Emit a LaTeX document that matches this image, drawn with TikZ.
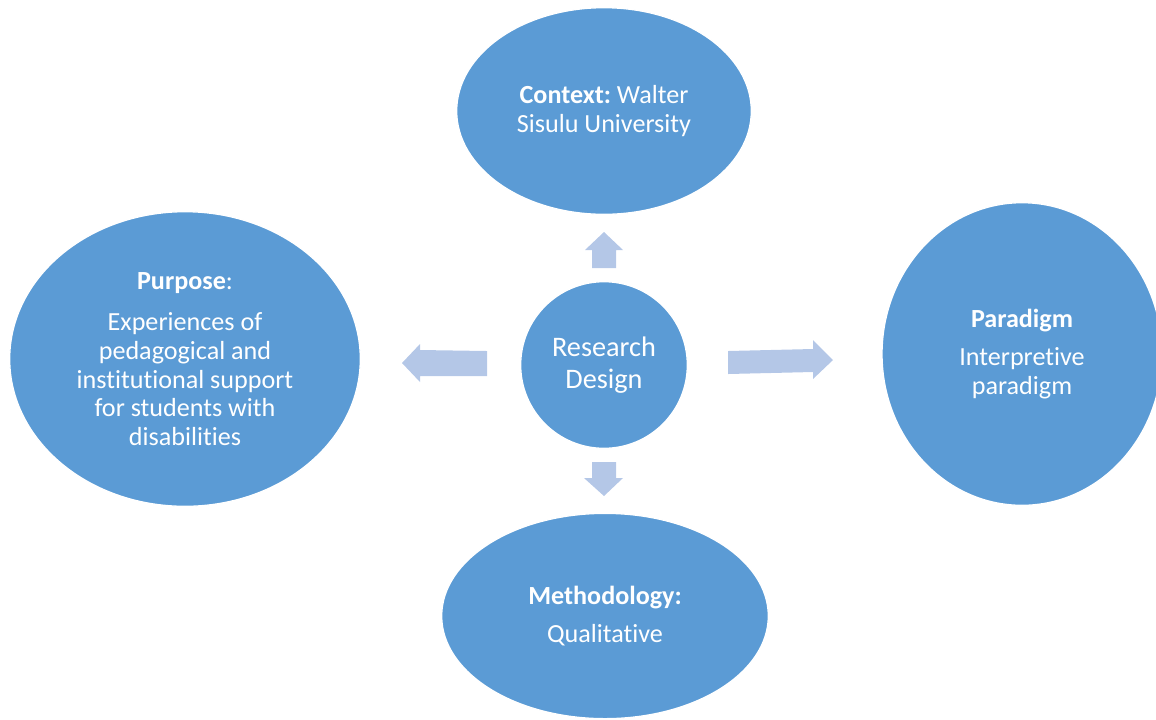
\documentclass[tikz,border=0pt]{standalone}
\usepackage{fontspec}
\setmainfont{Carlito}[Ligatures={NoCommon}]
\frenchspacing
\usetikzlibrary{shapes.geometric}
\definecolor{bubble}{RGB}{91,155,213}
\definecolor{arrowblue}{RGB}{180,199,231}
\tikzset{
  bubble/.style={ellipse, fill=bubble, draw=white, line width=1pt, text=white,
    align=center, inner sep=0pt, font=\fontsize{19.6}{21.5}\selectfont},
  blockarrow/.style={fill=arrowblue, draw=none}
}
\begin{document}
\begin{tikzpicture}[x=0.75pt, y=-0.75pt]
\useasboundingbox (0,0) rectangle (1156,719);
% nodes
\node[bubble, minimum width=221pt, minimum height=155pt] (ctx) at (604,111)
  {\textbf{Context:} Walter\\Sisulu University};
\node[bubble, minimum width=263pt, minimum height=221pt] (pur) at (185,359)
  {\textbf{Purpose}:\\[9.5pt]Experiences of\\pedagogical and\\institutional support\\for students with\\disabilities};
\node[bubble, minimum width=210pt, minimum height=227pt] (par) at (1022,354)
  {\textbf{Paradigm}\\[7.5pt]Interpretive\\paradigm};
\node[bubble, minimum width=245pt, minimum height=154pt] (met) at (605,616)
  {\textbf{Methodology:}\\[7.5pt]Qualitative};
\node[bubble, minimum width=125pt, minimum height=125pt,
  font=\fontsize{21.2}{24}\selectfont] (rd) at (604,365)
  {Research\\Design};
% block arrows
\fill[blockarrow] (592,268) -- (592,250) -- (585,250) -- (604,232) -- (623,250) -- (616,250) -- (616,268) -- cycle;
\fill[blockarrow] (592,462) -- (592,478) -- (584,478) -- (604,496) -- (623,478) -- (616,478) -- (616,462) -- cycle;
\fill[blockarrow] (487,351) -- (420,350) -- (420,344) -- (402,363) -- (420,382) -- (420,376) -- (487,376) -- cycle;
\fill[blockarrow] (728,351) -- (813,349) -- (813,340) -- (833,360) -- (813,379) -- (813,372) -- (728,374) -- cycle;
\end{tikzpicture}
\end{document}
